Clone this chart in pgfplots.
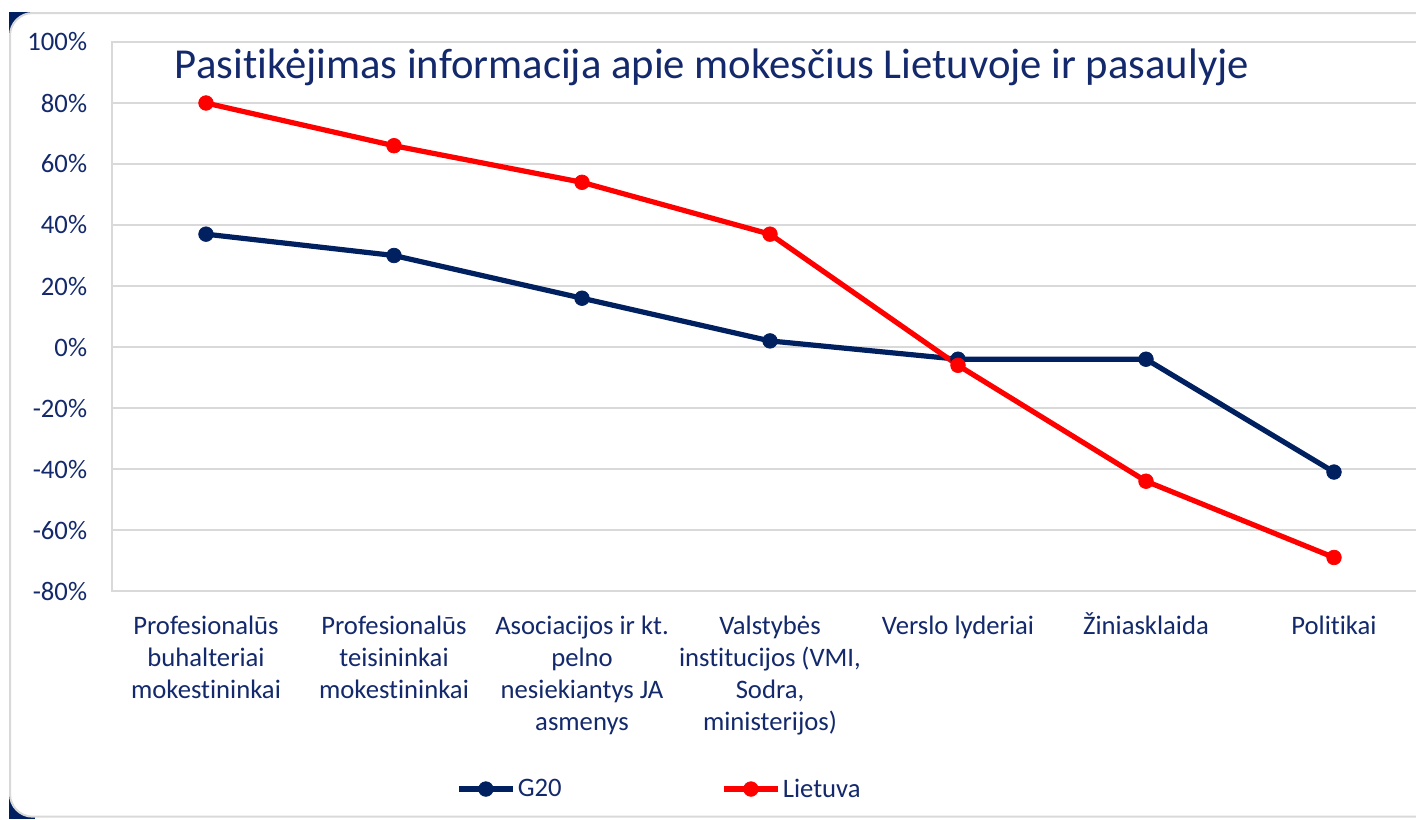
\documentclass[border=0pt]{standalone}
\usepackage{pgfplots}
\pgfplotsset{compat=1.18}
\usepackage{fontspec}
\setmainfont{Carlito}[Ligatures={NoCommon}]
\definecolor{navy}{HTML}{002060}
\definecolor{txt}{HTML}{13296B}
\definecolor{gridc}{HTML}{D9D9D9}
\definecolor{lred}{HTML}{FF0000}
\begin{document}
\begin{tikzpicture}
\clip (0,0) rectangle (1062pt,-614.25pt);
\fill[white] (0,0) rectangle (1062pt,-614.25pt);
\fill[navy] (6.75pt,-9pt) rectangle (26pt,-28pt);
\fill[navy] (6.75pt,-596pt) rectangle (26pt,-614.25pt);
\draw[gridc, line width=1.5pt, fill=white, rounded corners=17pt] (7.5pt,-9.75pt) rectangle (1100pt,-612.5pt);
\begin{axis}[
 at={(84pt,-443.25pt)}, anchor=south west,
 scale only axis, width=987pt, height=411.75pt,
 xmin=-0.5, xmax=6.5, ymin=-80, ymax=100,
 xtick={0,...,6},
 xticklabels={{\strut Profesionalūs\\buhalteriai\\mokestininkai},{\strut Profesionalūs\\teisininkai\\mokestininkai},{\strut Asociacijos ir kt.\\pelno\\nesiekiantys JA\\asmenys},{\strut Valstybės\\institucijos (VMI,\\Sodra,\\ministerijos)},{\strut Verslo lyderiai},{\strut Žiniasklaida},{\strut Politikai}},
 ytick={-80,-60,...,100},
 yticklabels={-80\%,-60\%,-40\%,-20\%,0\%,20\%,40\%,60\%,80\%,100\%},
 major tick length=0pt,
 ymajorgrids, grid style={gridc, line width=1.5pt},
 axis line style={gridc, line width=1.5pt},
 tick label style={font=\fontsize{20}{24}\selectfont, text=txt},
 yticklabel style={anchor=east, inner sep=0pt, xshift=-18.5pt},
 xticklabel style={anchor=north, inner sep=0pt, yshift=-15.5pt, align=center},
 clip=false,
 legend columns=2,
 legend style={at={(0.4164,-0.3607)}, anchor=center, draw=none, fill=none,
   font=\fontsize{20}{24}\selectfont, text=txt, nodes={inner sep=2pt},
   /tikz/every even column/.append style={column sep=118pt}},
 legend image code/.code={\draw[mark repeat=2, mark phase=2, #1] plot coordinates {(0pt,0pt) (20pt,0pt) (40pt,0pt)};},
]
\addplot[navy, line width=3.9pt, mark=*, mark size=5.5pt, mark options={solid, line width=0.5pt}] coordinates {(0,37)(1,30)(2,16)(3,2)(4,-4)(5,-4)(6,-41)};
\addlegendentry{G20}
\addplot[lred, line width=3.9pt, mark=*, mark size=5.5pt, mark options={solid, line width=0.5pt}] coordinates {(0,80)(1,66)(2,54)(3,37)(4,-6)(5,-44)(6,-69)};
\addlegendentry{Lietuva}
\end{axis}
\node[txt, font=\fontsize{32}{38}\selectfont, anchor=base] at (534pt,-58.5pt) {Pasitikėjimas informacija apie mokesčius Lietuvoje ir pasaulyje};
\end{tikzpicture}
\end{document}
